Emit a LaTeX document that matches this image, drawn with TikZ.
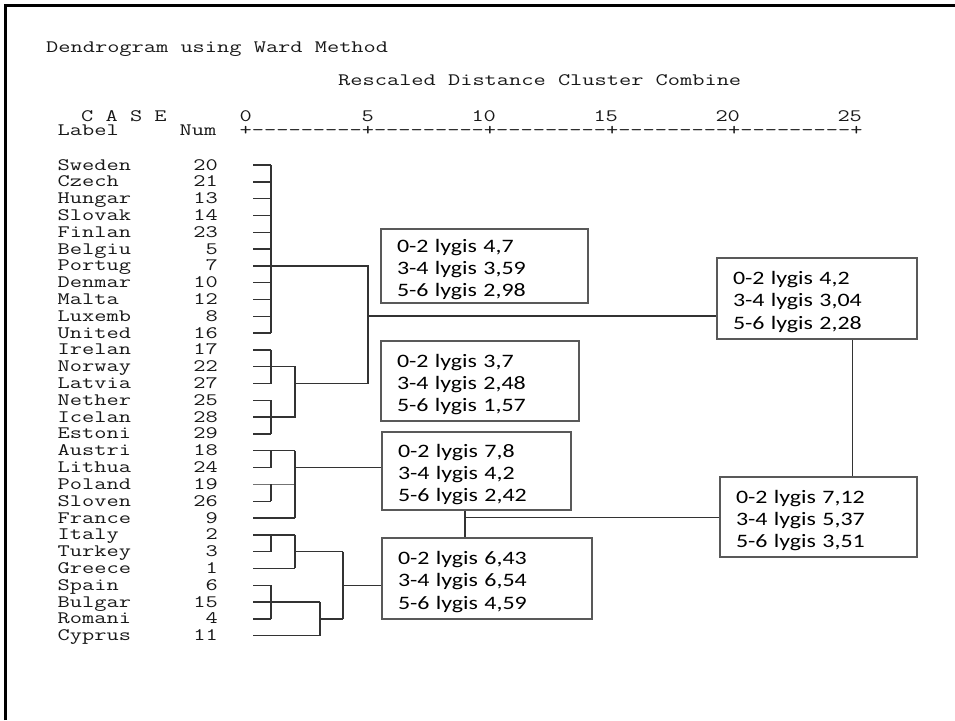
\documentclass[tikz,border=0pt]{standalone}
\usepackage{fontspec}
\newfontfamily\spssmono[FakeStretch=1.355]{Latin Modern Mono}
\newfontfamily\boxfont[FakeStretch=1.26]{Carlito}
\newcommand\fl{\rule{0pt}{20pt}}
\begin{document}
\begin{tikzpicture}[x=1pt,y=-1pt,
  mono/.style={font=\spssmono\fontsize{17.5}{17.5}\selectfont, inner sep=0pt, text=black!90},
  lab/.style={mono, anchor=base west},
  num/.style={mono, anchor=base east},
  stat/.style={draw=black!65, line width=1.5pt, fill=white, inner xsep=16pt, inner ysep=0pt,
    align=left, font=\boxfont\fontsize{19}{22.3}\selectfont, text=black},
  tree/.style={draw=black!80, line width=1.4pt},
  thintree/.style={draw=black!55, line width=0.9pt},
  frame/.style={draw=black, line width=2.8pt}]
\useasboundingbox (0,0) rectangle (955,720);
\fill[white] (0,0) rectangle (955,720);
\draw[frame] (5.3,720) -- (5.3,5.5) -- (955,5.5);

% headers
\node[lab] (title) at (46,52) {Dendrogram using Ward Method};
\node[lab] (sub) at (338,85) {Rescaled Distance Cluster Combine};
\node[lab] (case) at (81,121) {C A S E};
\node[lab] (t0) at (239.5,121) {0};
\node[lab] (t5) at (361.5,121) {5};
\node[lab] (t10) at (471.3,121) {10};
\node[lab] (t15) at (593.3,121) {15};
\node[lab] (t20) at (715.3,121) {20};
\node[lab] (t25) at (837.3,121) {25};
\node[lab] (label) at (57.5,135) {Label};
\node[lab] (numh) at (179.5,135) {Num};
\node[lab] (axis) at (239.5,135) {+---------+---------+---------+---------+---------+};

% rows
\foreach \lab/\n [count=\i from 0] in {Sweden/20,Czech/21,Hungar/13,Slovak/14,Finlan/23,Belgiu/5,Portug/7,Denmar/10,Malta/12,Luxemb/8,United/16,Irelan/17,Norway/22,Latvia/27,Nether/25,Icelan/28,Estoni/29,Austri/18,Lithua/24,Poland/19,Sloven/26,France/9,Italy/2,Turkey/3,Greece/1,Spain/6,Bulgar/15,Romani/4,Cyprus/11}{
  \coordinate (r\i) at (253,{165+16.81*\i});
  \node[lab] (l\i) at (57.5,{170+16.81*\i}) {\lab};
  \node[num] (n\i) at (218,{170+16.81*\i}) {\n};
}

% levels
\coordinate (xa) at (271,0);
\coordinate (xb) at (295,0);
\coordinate (xc) at (320,0);
\coordinate (xd) at (343,0);
\coordinate (xe) at (368,0);

% boxes
\node[stat, text width=175pt, minimum height=74pt] (bA) at (484.5,266) {\fl 0-2 lygis 4,7\\3-4 lygis 3,59\\5-6 lygis 2,98};
\node[stat, text width=166pt, minimum height=80pt] (bB) at (480,381) {\fl 0-2 lygis 3,7\\3-4 lygis 2,48\\5-6 lygis 1,57};
\node[stat, text width=157pt, minimum height=78pt] (bC) at (476.5,471) {\fl 0-2 lygis 7,8\\3-4 lygis 4,2\\5-6 lygis 2,42};
\node[stat, text width=178pt, minimum height=81pt] (bD) at (487,578.5) {\fl 0-2 lygis 6,43\\3-4 lygis 6,54\\5-6 lygis 4,59};
\node[stat, text width=168pt, minimum height=81pt] (bE) at (817,298.5) {\fl 0-2 lygis 4,2\\3-4 lygis 3,04\\5-6 lygis 2,28};
\node[stat, text width=165pt, minimum height=80pt] (bF) at (818.5,517) {\fl 0-2 lygis 7,12\\3-4 lygis 5,37\\5-6 lygis 3,51};

% cluster 1
\foreach \i in {0,...,10}{\draw[tree] (r\i) -- (r\i -| xa);}
\draw[tree] (r0 -| xa) -- (r10 -| xa);
\draw[tree] (r6 -| xa) -- (r6 -| xe) -- (r13 -| xe) -- (r13 -| xb);
\coordinate (j1) at (368,316);
\draw[tree] (j1) -- (j1 -| bE.west);

% cluster 2
\foreach \i in {11,...,16}{\draw[tree] (r\i) -- (r\i -| xa);}
\draw[tree] (r11 -| xa) -- (r13 -| xa);
\draw[tree] (r14 -| xa) -- (r16 -| xa);
\draw[tree] (r12 -| xa) -- (r12 -| xb) -- (r15 -| xb) -- (r15 -| xa);

% cluster 3
\draw[tree] (r17) -- (r17 -| xb);
\draw[tree] (r18) -- (r18 -| xa);
\draw[tree] (r17 -| xa) -- (r18 -| xa);
\draw[thintree] (r19) -- (r19 -| xb);
\draw[tree] (r20) -- (r20 -| xa);
\draw[tree] (r19 -| xa) -- (r20 -| xa);
\draw[tree] (r21) -- (r21 -| xb);
\draw[tree] (r17 -| xb) -- (r21 -| xb);
\draw[tree] (r18 -| xb) -- (r18 -| bC.west);

% cluster 4
\draw[tree] (r22) -- (r22 -| xb);
\draw[tree] (r23) -- (r23 -| xa);
\draw[tree] (r22 -| xa) -- (r23 -| xa);
\draw[tree] (r24) -- (r24 -| xb);
\draw[tree] (r22 -| xb) -- (r24 -| xb);
\draw[tree] (r23 -| xb) -- (r23 -| xd);
\draw[tree] (r25) -- (r25 -| xa);
\draw[tree] (r26) -- (r26 -| xc);
\draw[tree] (r27) -- (r27 -| xa);
\draw[tree] (r25 -| xa) -- (r27 -| xa);
\draw[tree] (r28) -- (r28 -| xc);
\draw[tree] (r26 -| xc) -- (r28 -| xc);
\draw[tree] (r27 -| xc) -- (r27 -| xd);
\draw[tree] (r23 -| xd) -- (r27 -| xd);
\draw[tree] (r25 -| xd) -- (r25 -| bD.west);

% upper joins
\coordinate (j2) at (465,517.7);
\draw[tree] (j2 |- bC.south) -- (j2 |- bD.north);
\draw[tree] (j2) -- (j2 -| bF.west);
\coordinate (j3) at (852.7,0);
\draw[tree] (j3 |- bE.south) -- (j3 |- bF.north);
\end{tikzpicture}
\end{document}
